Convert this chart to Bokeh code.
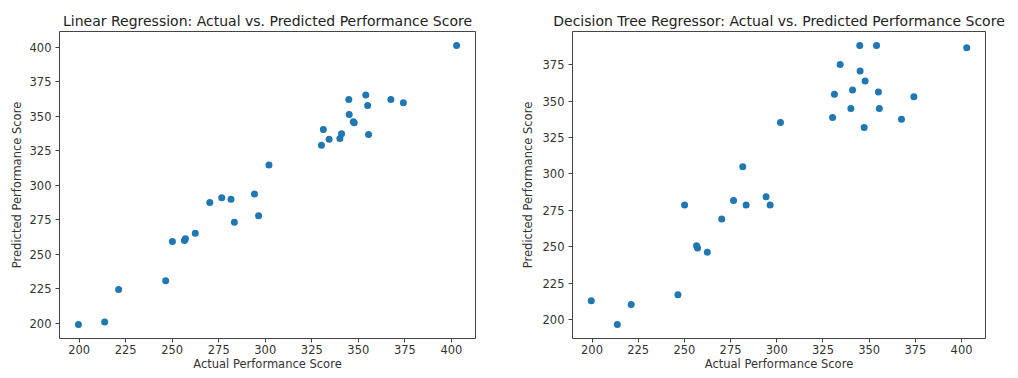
from bokeh.plotting import figure
from bokeh.layouts import row
from bokeh.models import ColumnDataSource, FixedTicker, Range1d
from bokeh.embed import file_html
from bokeh.resources import INLINE

actual = [199.6, 213.7, 221.2, 246.5, 250.1, 256.6, 257.1, 262.4, 270.2, 276.6,
          281.6, 283.4, 294.2, 296.4, 302.0, 330.2, 331.2, 334.3, 340.1, 341.0,
          344.9, 345.1, 347.3, 347.8, 354.0, 355.0, 355.5, 367.5, 374.2, 402.8]
pred_lr = [199.0, 200.9, 224.4, 230.8, 259.3, 260.0, 261.2, 265.2, 287.5, 291.0,
           289.8, 273.1, 293.7, 277.9, 314.7, 329.0, 340.5, 333.3, 334.0, 337.4,
           362.2, 351.3, 346.0, 345.3, 365.4, 357.9, 336.9, 362.2, 359.9, 401.4]
pred_dt = [213.0, 196.6, 210.3, 217.1, 278.7, 250.7, 249.1, 246.3, 269.1, 281.7,
           305.0, 278.7, 284.4, 278.7, 335.3, 338.7, 354.7, 375.2, 344.9, 357.7,
           388.2, 370.7, 331.9, 363.8, 388.2, 356.3, 344.9, 337.6, 352.9, 386.6]

x_ticks = [200, 225, 250, 275, 300, 325, 350, 375, 400]
y_ticks_lr = [200, 225, 250, 275, 300, 325, 350, 375, 400]
y_ticks_dt = [200, 225, 250, 275, 300, 325, 350, 375]

titles = ["Linear Regression: Actual vs. Predicted Performance Score",
          "Decision Tree Regressor: Actual vs. Predicted Performance Score"]
x_label = "Actual Performance Score"
y_label = "Predicted Performance Score"

FONT = "DejaVu Sans"
TXT = "#333333"


def pad_range(vals):
    lo, hi = min(vals), max(vals)
    m = (hi - lo) * 0.05
    return Range1d(lo - m, hi + m)


def make(title, yvals, yticks, width, borders, y_label_standoff):
    left, right, top, bottom = borders
    p = figure(width=width, height=378, output_backend="svg", toolbar_location=None,
               title=title, x_range=pad_range(actual), y_range=pad_range(yvals),
               min_border_left=left, min_border_right=right,
               min_border_top=top, min_border_bottom=bottom)
    p.title.text_font = FONT
    p.title.text_font_style = "normal"
    p.title.text_font_size = "14px"
    p.title.text_color = "#222222"
    p.title.align = "center"
    p.title.standoff = 6
    src = ColumnDataSource(dict(x=actual, y=yvals))
    p.scatter("x", "y", source=src, size=7, fill_color="#1f77b4", line_color=None)
    p.grid.visible = False
    p.outline_line_color = "#444444"
    p.outline_line_alpha = 1.0
    p.outline_line_width = 1
    p.xaxis.ticker = FixedTicker(ticks=x_ticks)
    p.yaxis.ticker = FixedTicker(ticks=yticks)
    for ax in (p.xaxis, p.yaxis):
        ax.axis_line_color = None
        ax.major_tick_line_color = "#444444"
        ax.major_tick_in = 0
        ax.major_tick_out = 4
        ax.minor_tick_line_color = None
        ax.major_label_text_font = FONT
        ax.major_label_text_font_size = "11.5px"
        ax.major_label_text_color = TXT
        ax.axis_label_text_font = FONT
        ax.axis_label_text_font_size = "11.5px"
        ax.axis_label_text_font_style = "normal"
        ax.axis_label_text_color = TXT
    p.xaxis.major_label_standoff = 2
    p.yaxis.major_label_standoff = 4
    p.xaxis.axis_label = x_label
    p.yaxis.axis_label = y_label
    p.xaxis.axis_label_standoff = 0
    p.yaxis.axis_label_standoff = y_label_standoff
    return p


p1 = make(titles[0], pred_lr, y_ticks_lr, 500, (59, 25, 31, 37), 3)
p2 = make(titles[1], pred_dt, y_ticks_dt, 518, (72, 33, 29, 40), 5)

layout = row(p1, p2)
open("out.html", "w").write(file_html(layout, INLINE))
